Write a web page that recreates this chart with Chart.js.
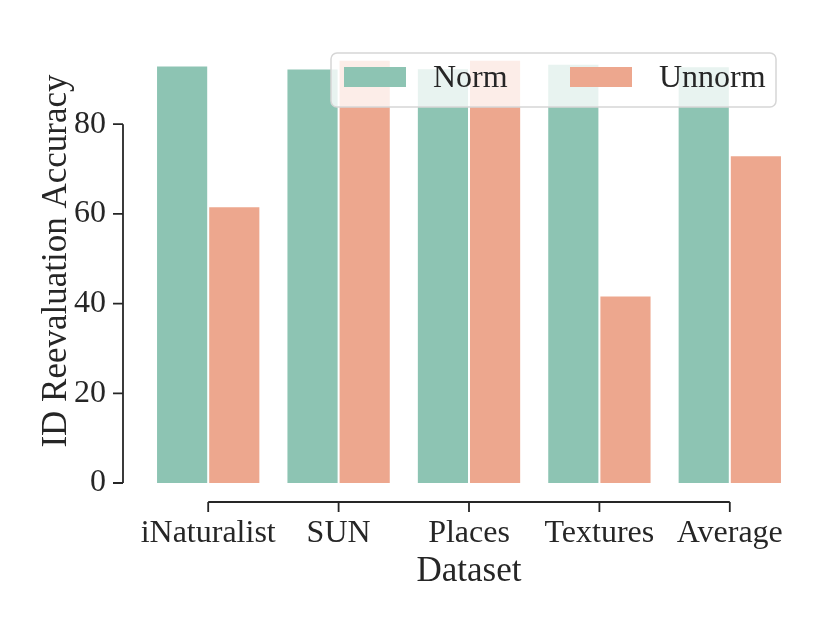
<!DOCTYPE html>
<html>
<head>
<meta charset="utf-8">
<script src="https://cdn.jsdelivr.net/npm/chart.js@4/dist/chart.umd.min.js"></script>
<style>
  body { margin: 0; background: #fff; }
  #wrap { width: 830px; height: 623px; }
</style>
</head>
<body>
<div id="wrap"><canvas id="accChart"></canvas></div>
<script>
const categories = ["iNaturalist", "SUN", "Places", "Textures", "Average"];
const normAcc = [93.1, 92.4, 92.5, 93.5, 92.9];
const unnormAcc = [61.7, 94.4, 94.4, 41.8, 73.1];
const yTicks = [0, 20, 40, 60, 80];

const FONT = "'Liberation Serif', 'Times New Roman', serif";
const INK = "#262626";

// seaborn-like offset + trimmed spines
const spines = {
  id: "spines",
  afterDraw(chart) {
    const { ctx, chartArea, scales } = chart;
    const x = scales.x, y = scales.y;
    ctx.save();
    ctx.strokeStyle = INK;
    ctx.lineWidth = 1.8;
    ctx.beginPath();
    const sx = chartArea.left - 20;
    ctx.moveTo(sx, y.getPixelForValue(yTicks[0]));
    ctx.lineTo(sx, y.getPixelForValue(yTicks[yTicks.length - 1]));
    yTicks.forEach(v => {
      const py = y.getPixelForValue(v);
      ctx.moveTo(sx - 10, py);
      ctx.lineTo(sx, py);
    });
    const sy = chartArea.bottom + 19;
    ctx.moveTo(x.getPixelForTick(0), sy);
    ctx.lineTo(x.getPixelForTick(categories.length - 1), sy);
    categories.forEach((c, i) => {
      const px = x.getPixelForTick(i);
      ctx.moveTo(px, sy);
      ctx.lineTo(px, sy + 10);
    });
    ctx.stroke();
    ctx.restore();
  }
};

// legend box drawn over the bars, like matplotlib's
const overlayLegend = {
  id: "overlayLegend",
  afterDatasetsDraw(chart) {
    const { ctx, chartArea } = chart;
    const w = 445, h = 54;
    const left = chartArea.right - 19 - w;
    const top = chartArea.top + 14;
    ctx.save();
    ctx.beginPath();
    ctx.roundRect(left, top, w, h, 6);
    ctx.fillStyle = "rgba(255,255,255,0.8)";
    ctx.fill();
    ctx.strokeStyle = "#d6d6d6";
    ctx.lineWidth = 1.5;
    ctx.stroke();
    ctx.font = "32px " + FONT;
    ctx.textBaseline = "middle";
    ctx.fillStyle = INK;
    const offs = [13, 239];
    chart.data.datasets.forEach((ds, i) => {
      const px = left + offs[i];
      ctx.fillStyle = ds.backgroundColor;
      ctx.fillRect(px, top + 14, 62, 20);
      ctx.fillStyle = INK;
      ctx.fillText(ds.label, px + 89, top + 26);
    });
    ctx.restore();
  }
};

new Chart(document.getElementById("accChart"), {
  type: "bar",
  data: {
    labels: categories,
    datasets: [
      {
        label: "Norm",
        data: normAcc,
        backgroundColor: "#8dc4b3",
        borderColor: "#ffffff",
        borderWidth: 1,
        barPercentage: 1,
        categoryPercentage: 0.8,
      },
      {
        label: "Unnorm",
        data: unnormAcc,
        backgroundColor: "#eda78e",
        borderColor: "#ffffff",
        borderWidth: 1,
        barPercentage: 1,
        categoryPercentage: 0.8,
      },
    ],
  },
  options: {
    responsive: true,
    maintainAspectRatio: false,
    animation: false,
    layout: { padding: { left: 32, right: 35, top: 39, bottom: 27 } },
    plugins: {
      legend: { display: false },
      tooltip: { enabled: false },
    },
    scales: {
      x: {
        grid: { display: false, drawTicks: false },
        border: { display: false },
        ticks: { font: { family: FONT, size: 32 }, color: INK, padding: 31, maxRotation: 0, autoSkip: false },
        title: { display: true, text: "Dataset", font: { family: FONT, size: 35 }, color: INK, padding: 3 },
        afterFit: s => { s.height = 113; },
      },
      y: {
        min: 0,
        max: 99,
        grid: { display: false, drawTicks: false },
        border: { display: false },
        ticks: { stepSize: 20, font: { family: FONT, size: 32 }, color: INK, padding: 37 },
        afterBuildTicks: s => { s.ticks = yTicks.map(v => ({ value: v })); },
        title: { display: true, text: "ID Reevaluation Accuracy", font: { family: FONT, size: 35 }, color: INK, padding: 4 },
        // big tick padding would otherwise push the plot top down
        afterFit: s => { s.width = 111; s.paddingTop = 0; s.paddingBottom = 0; },
      },
    },
  },
  plugins: [spines, overlayLegend],
});
</script>
</body>
</html>
